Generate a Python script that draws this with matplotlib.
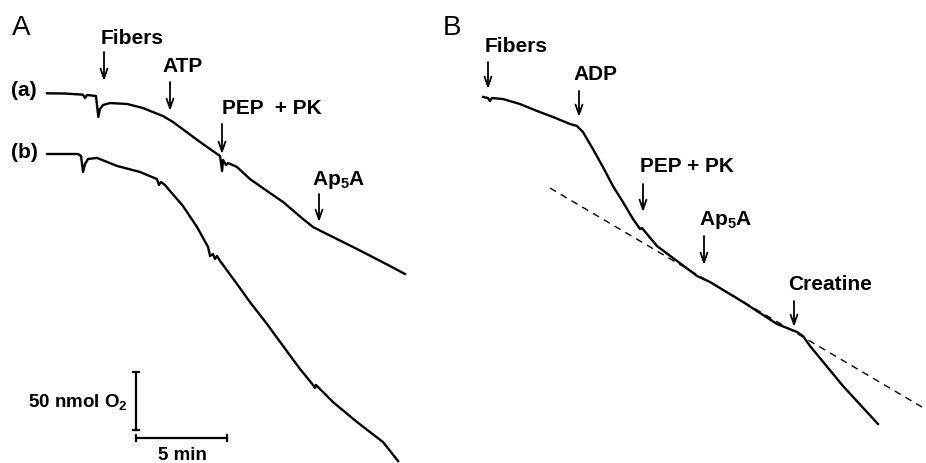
import matplotlib
matplotlib.use("Agg")
import matplotlib.pyplot as plt
import numpy as np

plt.rcParams['font.family'] = ['Liberation Sans', 'DejaVu Sans']
plt.rcParams['mathtext.fontset'] = 'custom'
plt.rcParams['mathtext.rm'] = 'Liberation Sans'
plt.rcParams['mathtext.bf'] = 'Liberation Sans:bold'
plt.rcParams['mathtext.it'] = 'Liberation Sans:italic'

# ---------------- data (time in min from trace start, O2 consumed in nmol) -------------
a_time = [0, 0.99, 1.98, 2.09, 2.20, 2.69, 2.82, 2.91, 3.08, 3.46, 4.40, 5.27, 6.37, 6.92,
          8.41, 9.51, 9.62, 9.67, 9.84, 9.95, 10.44, 11.15, 12.09, 12.97, 14.07, 14.62,
          15.16, 17.03, 18.85, 19.67]
a_o2 = [0, 0.2, 1.2, 4.1, 1.5, 2.3, 20.4, 13.5, 10.1, 8.4, 9.2, 12.7, 19.6, 24.7,
        42.0, 54.1, 67.0, 57.5, 61.8, 60.1, 63.5, 73.9, 84.2, 93.7, 108.4, 115.3,
        119.6, 134.2, 148.9, 155.8]

b_time = [0, 1.70, 1.87, 1.98, 2.09, 2.25, 2.75, 3.85, 5.11, 6.04, 6.15, 6.26, 6.48, 6.76,
          7.47, 8.24, 8.85, 8.96, 9.12, 9.23, 9.34, 9.51, 10.44, 11.15, 12.09, 12.97,
          13.90, 14.62, 14.73, 14.78, 15.71, 17.03, 18.46, 19.29]
b_o2 = [0, 0, 1.7, 15.5, 8.6, 4.3, 3.4, 10.3, 15.5, 21.6, 26.7, 24.1, 26.7, 31.9,
        44.8, 62.9, 80.2, 87.9, 86.2, 90.5, 87.9, 92.2, 112.1, 127.6, 146.6, 165.5,
        185.3, 199.1, 201.7, 199.1, 213.8, 231.0, 248.3, 264.7]

B_time = [0, 0.27, 0.38, 0.49, 1.10, 2.03, 2.97, 3.85, 4.78, 5.16, 5.49, 6.04, 6.59, 7.14,
          7.69, 8.24, 8.63, 8.74, 9.56, 10.66, 11.76, 12.47, 14.29, 16.15, 17.25, 17.58,
          17.97, 19.78, 21.70]
B_o2 = [-0.9, 0, 2.6, 0, 0.9, 5.2, 11.2, 16.4, 22.4, 24.1, 29.3, 44.0, 59.5, 75.9,
        89.7, 104.3, 112.9, 112.1, 127.6, 140.5, 153.4, 158.6, 175.9, 194.8, 201.7, 205.2,
        213.8, 248.3, 281.0]

B_fit_time = [3.68, 24.12]
B_fit_o2 = [77.6, 266.4]

A_events = ["Fibers", "ATP", "PEP  + PK", r"$\mathbf{Ap_5A}$"]
B_events = ["Fibers", "ADP", "PEP + PK", r"$\mathbf{Ap_5A}$", "Creatine"]

scale_o2 = 50   # nmol O2
scale_time = 5  # min

# ---------------- layout ----------------
W, H = 926, 464
PX_MIN = 18.2   # px per min
PX_NMOL = 1.16  # px per nmol

def px(x, y):
    return x / PX_MIN, y / PX_NMOL

fig = plt.figure(figsize=(W / 100, H / 100), dpi=100)
ax = fig.add_axes([0, 0, 1, 1])
ax.set_xlim(0, W / PX_MIN)
ax.set_ylim(H / PX_NMOL, 0)
ax.axis('off')

def trace(t, c, x0, y0, **kw):
    X0, Y0 = px(x0, y0)
    ax.plot(np.array(t) + X0, np.array(c) + Y0, color='black', lw=1.7,
            solid_joinstyle='round', **kw)

trace(a_time, a_o2, 47, 94.3)
trace(b_time, b_o2, 47, 155)
trace(B_time, B_o2, 483, 99)
X0, Y0 = px(483, 99)
ax.plot(np.array(B_fit_time) + X0, np.array(B_fit_o2) + Y0, color='black', lw=1.0,
        dashes=(5, 4))

fs = 15
def label(text, x, y, size=fs, weight='bold', ha='center'):
    ax.text(*px(x, y), text, fontsize=size, fontweight=weight, ha=ha, va='center')

def arrow(x, ytop, ybot):
    ax.annotate('', xy=px(x, ybot), xytext=px(x, ytop),
                arrowprops=dict(arrowstyle='->,head_length=0.7,head_width=0.25',
                                lw=1.3, color='black', shrinkA=0, shrinkB=0))

# panel letters
label("A", 21, 28, size=20, weight='normal')
label("B", 452, 28, size=20, weight='normal')
label("(a)", 24, 90, size=15)
label("(b)", 24, 153, size=15)

# Panel A events
A_text_pos = [(132, 38), (183, 67), (272, 108), (339, 180)]
A_arrows = [(104, 53, 82), (170, 83, 112), (222, 125, 155), (319, 195, 223)]
for txt, (tx, ty), (axx, y1, y2) in zip(A_events, A_text_pos, A_arrows):
    label(txt, tx, ty)
    arrow(axx, y1, y2)

# Panel B events
B_text_pos = [(516, 46), (595, 74), (687, 167), (726, 220), (830, 285)]
B_arrows = [(488, 63, 90), (579, 92, 118), (643, 185, 213), (704, 237, 266), (794, 302, 328)]
for txt, (tx, ty), (axx, y1, y2) in zip(B_events, B_text_pos, B_arrows):
    label(txt, tx, ty)
    arrow(axx, y1, y2)

# scale bars
sx, sy = px(136, 431)
ax.plot([sx, sx], [sy, sy - scale_o2], color='black', lw=1.6)
cap = 3 / PX_MIN
for yy in (sy, sy - scale_o2):
    ax.plot([sx - cap, sx + cap], [yy, yy], color='black', lw=1.6)
hx, hy = px(136, 439)
ax.plot([hx, hx + scale_time], [hy, hy], color='black', lw=1.6)
capy = 3 / PX_NMOL
for xx in (hx, hx + scale_time):
    ax.plot([xx, xx], [hy - capy, hy + capy], color='black', lw=1.6)
ax.text(*px(128, 402), r"50 nmol O$_{\mathbf{2}}$", fontsize=13.5, fontweight='bold',
        ha='right', va='center')
label("5 min", 182, 456, size=13.5)

fig.savefig("out.png", dpi=100)
